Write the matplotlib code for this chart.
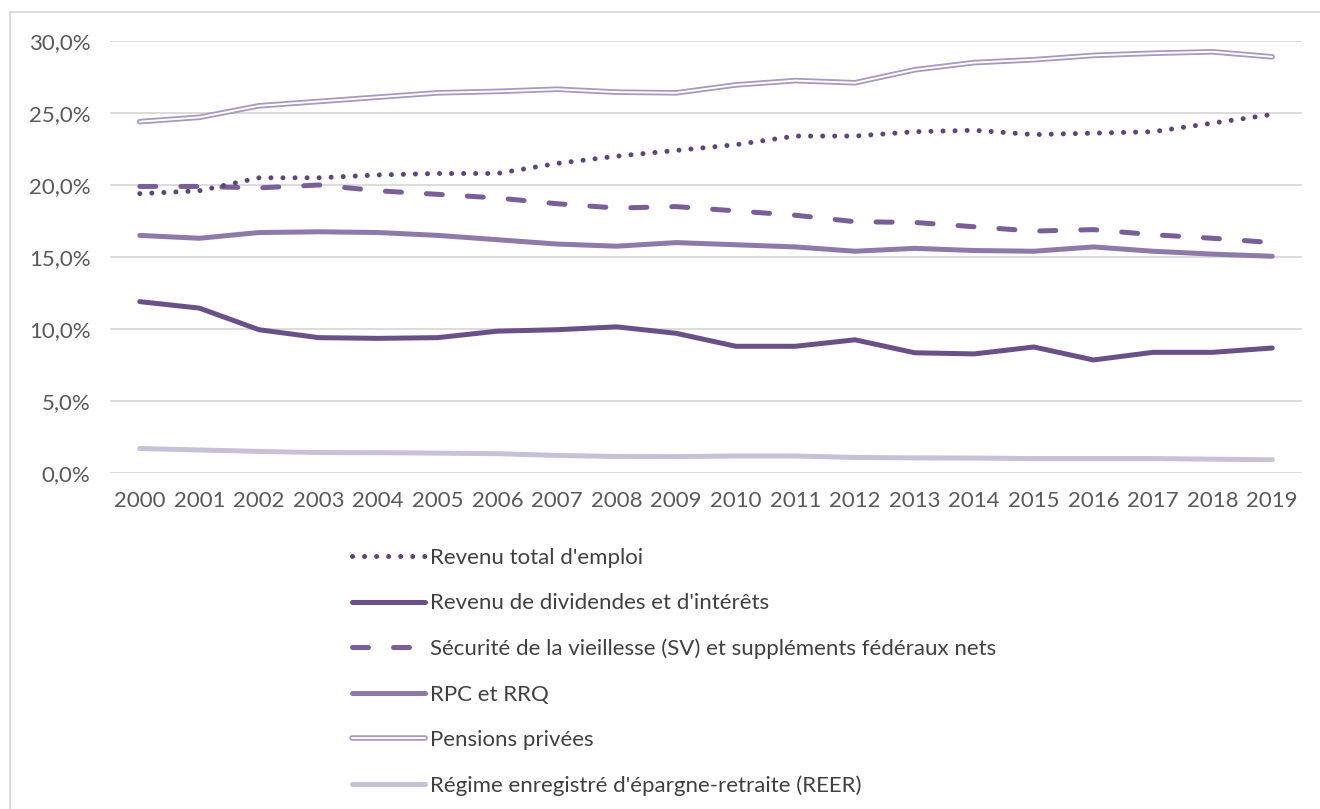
import matplotlib
matplotlib.use("Agg")
import matplotlib.pyplot as plt
import matplotlib.patheffects as pe
from matplotlib.ticker import FuncFormatter, MultipleLocator

years = [str(y) for y in range(2000, 2020)]
emploi = [19.4, 19.6, 20.5, 20.5, 20.7, 20.8, 20.8, 21.5, 22.0, 22.4, 22.8, 23.4, 23.4, 23.7, 23.8, 23.5, 23.6, 23.7, 24.3, 24.9]
dividendes = [11.9, 11.45, 9.95, 9.4, 9.35, 9.4, 9.85, 9.95, 10.15, 9.7, 8.8, 8.8, 9.25, 8.35, 8.27, 8.75, 7.85, 8.38, 8.38, 8.68]
sv = [19.9, 19.9, 19.8, 20.0, 19.6, 19.35, 19.1, 18.7, 18.4, 18.5, 18.2, 17.9, 17.45, 17.4, 17.1, 16.8, 16.9, 16.55, 16.3, 16.0]
rpc = [16.5, 16.3, 16.7, 16.75, 16.7, 16.5, 16.2, 15.9, 15.75, 16.0, 15.85, 15.7, 15.4, 15.6, 15.45, 15.4, 15.7, 15.4, 15.2, 15.05]
pensions = [24.4, 24.7, 25.5, 25.8, 26.1, 26.4, 26.5, 26.65, 26.45, 26.4, 26.95, 27.25, 27.1, 28.0, 28.5, 28.7, 29.0, 29.15, 29.25, 28.9]
reer = [1.7, 1.6, 1.5, 1.42, 1.41, 1.38, 1.34, 1.22, 1.15, 1.14, 1.18, 1.18, 1.08, 1.05, 1.04, 1.0, 1.0, 1.0, 0.96, 0.92]

labels = ["Revenu total d'emploi",
          "Revenu de dividendes et d'intérêts",
          "Sécurité de la vieillesse (SV) et suppléments fédéraux nets",
          "RPC et RRQ",
          "Pensions privées",
          "Régime enregistré d'épargne-retraite (REER)"]

plt.rcParams['font.family'] = ['Lato', 'DejaVu Sans']

fig = plt.figure(figsize=(13.2, 8.09), dpi=100)
ax = fig.add_axes([110/1320, 1 - 473/809, 1192/1320, 432/809])

x = list(range(len(years)))
lw = 3.6

h1, = ax.plot(x, emploi, color='#5e4579', lw=3.6, linestyle=(0, (0.01, 2.4)),
              dash_capstyle='round', label=labels[0], zorder=5)
h2, = ax.plot(x, dividendes, color='#6a508a', lw=lw, solid_capstyle='round',
              solid_joinstyle='round', label=labels[1], zorder=4)
h3, = ax.plot(x, sv, color='#7a5e9b', lw=lw, linestyle=(0, (3.2, 5.0)),
              dash_capstyle='round', label=labels[2], zorder=4)
h4, = ax.plot(x, rpc, color='#8e79ad', lw=lw, solid_capstyle='round',
              solid_joinstyle='round', label=labels[3], zorder=3)
h5, = ax.plot(x, pensions, color='white', lw=1.4, solid_capstyle='round',
              solid_joinstyle='round', label=labels[4], zorder=3,
              path_effects=[pe.Stroke(linewidth=4.0, foreground='#a898c2'), pe.Normal()])
h6, = ax.plot(x, reer, color='#c8c0d8', lw=lw, solid_capstyle='round',
              solid_joinstyle='round', label=labels[5], zorder=3)

ax.set_xlim(-0.5, len(years) - 0.5)
ax.set_ylim(0, 30)
ax.set_xticks(x)
ax.set_xticklabels(years)
ax.yaxis.set_major_locator(MultipleLocator(5))
ax.yaxis.set_major_formatter(FuncFormatter(lambda v, p: f"{v:.1f}".replace('.', ',') + '%'))
ax.grid(axis='y', color='#d9d9d9', lw=1.3)
ax.set_axisbelow(True)
for s in ax.spines.values():
    s.set_visible(False)
ax.tick_params(axis='both', length=0, labelsize=16, labelcolor='#595959')
ax.tick_params(axis='y', pad=14)
ax.tick_params(axis='x', pad=13)

# outer chart border (top and left visible)
fig.add_artist(plt.Line2D([10/1320, 10/1320], [0, 1 - 12/809], color='#d9d9d9', lw=1.3))
fig.add_artist(plt.Line2D([10/1320, 1], [1 - 12/809, 1 - 12/809], color='#d9d9d9', lw=1.3))

leg = fig.legend(handles=[h1, h2, h3, h4, h5, h6], loc='upper left',
                 bbox_to_anchor=(352/1320, 1 - 548/809), frameon=False,
                 fontsize=16, handlelength=3.3, handletextpad=0.2,
                 labelspacing=1.14, borderaxespad=0, borderpad=0)
for t in leg.get_texts():
    t.set_color('#404040')

fig.savefig('out.png', dpi=100)
